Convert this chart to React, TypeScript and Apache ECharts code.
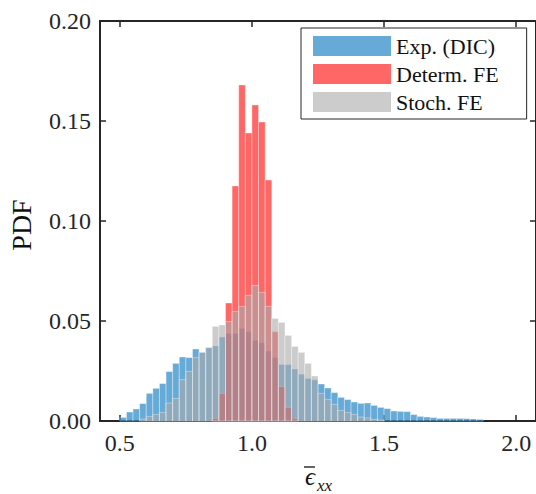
import React, { useEffect, useRef } from "react";
import * as echarts from "echarts";

const binWidth = 0.025;
const seriesNames = ["Exp. (DIC)", "Determ. FE", "Stoch. FE"];
const seriesColors = ["rgba(0,114,189,0.6)", "rgba(255,0,0,0.6)", "rgba(170,170,170,0.6)"];

const expStart = 0.5;
const expValues = [
  0.0018, 0.0045, 0.006, 0.0087, 0.0138, 0.0163, 0.0187, 0.0247, 0.0288, 0.032,
  0.0317, 0.036, 0.0343, 0.0367, 0.0375, 0.042, 0.0437, 0.0437, 0.0463, 0.0447,
  0.0403, 0.0392, 0.035, 0.0317, 0.0283, 0.0282, 0.026, 0.0234, 0.0213, 0.0206,
  0.0185, 0.0165, 0.0142, 0.0118, 0.0107, 0.0095, 0.0088, 0.009, 0.0078, 0.0068,
  0.0062, 0.005, 0.0048, 0.0047, 0.0032, 0.0023, 0.002, 0.0017, 0.0013, 0.0013,
  0.0013, 0.0013, 0.0012, 0.001, 0.0008,
];

const detStart = 0.85;
const detValues = [
  0.0013, 0.0138, 0.059, 0.1175, 0.168, 0.144, 0.158, 0.1495, 0.1205, 0.0447,
  0.0172, 0.0068, 0.0013,
];

const stochStart = 0.575;
const stochValues = [
  0.001, 0.0023, 0.0033, 0.0043, 0.009, 0.0113, 0.0207, 0.0248, 0.0317, 0.0343,
  0.0367, 0.0473, 0.048, 0.0497, 0.0548, 0.0573, 0.0628, 0.0678, 0.0643, 0.0573,
  0.0513, 0.0493, 0.0428, 0.0373, 0.0343, 0.0288, 0.0225, 0.0138, 0.0108, 0.0083,
  0.0053, 0.0042, 0.0033, 0.002, 0.0015, 0.0008, 0.0005,
];

const xTicks = [0.5, 1.0, 1.5, 2.0];
const yTicks = [0, 0.05, 0.1, 0.15, 0.2];

const FONT = "'Liberation Serif', 'DejaVu Serif', serif";
const AXIS_COLOR = "#262626";

function toBins(start: number, values: number[]) {
  return values.map((v, i) => [start + i * binWidth, start + (i + 1) * binWidth, v]);
}

export default function App() {
  const ref = useRef<HTMLDivElement>(null);
  useEffect(() => {
    if (!ref.current) return;
    const chart = echarts.init(ref.current, null, { renderer: "svg" });
    const makeSeries = (idx: number, data: number[][]) => ({
      type: "custom",
      name: seriesNames[idx],
      xAxisIndex: 0,
      yAxisIndex: 0,
      itemStyle: { color: seriesColors[idx] },
      encode: { x: [0, 1], y: 2 },
      data,
      renderItem: (params: any, api: any) => {
        const p0 = api.coord([api.value(0), api.value(2)]);
        const p1 = api.coord([api.value(1), 0]);
        return {
          type: "rect",
          shape: { x: p0[0], y: p0[1], width: p1[0] - p0[0], height: p1[1] - p0[1] },
          style: { fill: seriesColors[idx], stroke: "rgba(255,255,255,0.45)", lineWidth: 0.8 },
        };
      },
    });
    const xBase = {
      type: "value",
      min: 0.425,
      max: 2.075,
      splitLine: { show: false },
      axisLine: { show: true, onZero: false, lineStyle: { color: AXIS_COLOR, width: 2 } },
      axisTick: { show: true, inside: true, length: 6, customValues: xTicks, lineStyle: { color: AXIS_COLOR, width: 1.5 } },
    };
    const yBase = {
      type: "value",
      min: 0,
      max: 0.2,
      interval: 0.05,
      splitLine: { show: false },
      axisLine: { show: true, onZero: false, lineStyle: { color: AXIS_COLOR, width: 2 } },
      axisTick: { show: true, inside: true, length: 6, lineStyle: { color: AXIS_COLOR, width: 1.5 } },
    };
    chart.setOption({
      animation: false,
      grid: { left: 100, right: -2, top: 21, bottom: 73, containLabel: false },
      xAxis: [
        {
          ...xBase,
          position: "bottom",
          axisLabel: {
            show: true,
            customValues: xTicks,
            formatter: (v: number) => v.toFixed(1),
            color: AXIS_COLOR,
            fontFamily: FONT,
            fontSize: 24,
            margin: 10,
          },
        },
        { ...xBase, position: "top", axisLabel: { show: false } },
      ],
      yAxis: [
        {
          ...yBase,
          position: "left",
          axisLabel: {
            show: true,
            formatter: (v: number) => v.toFixed(2),
            color: AXIS_COLOR,
            fontFamily: FONT,
            fontSize: 24,
            margin: 9,
            customValues: yTicks,
          },
        },
        { ...yBase, position: "right", axisLabel: { show: false } },
      ],
      legend: {
        show: true,
        orient: "vertical",
        left: 301,
        top: 28,
        padding: [7, 28, 6, 12],
        itemGap: 6,
        itemWidth: 78,
        itemHeight: 20,
        icon: "rect",
        borderColor: AXIS_COLOR,
        borderWidth: 1,
        backgroundColor: "#ffffff",
        data: seriesNames,
        textStyle: { fontFamily: FONT, fontSize: 22, color: "#111", padding: [0, 0, 0, 0], lineHeight: 20 },
        selectedMode: false,
      },
      graphic: [
        {
          type: "text",
          x: 21,
          y: 225,
          rotation: Math.PI / 2,
          style: { text: "PDF", font: `28px ${FONT}`, fill: "#111", align: "center", verticalAlign: "middle" },
        },
        {
          type: "text",
          x: 310,
          y: 476,
          style: { text: "\u03F5", font: `italic 25px ${FONT}`, fill: "#111", align: "center", verticalAlign: "middle" },
        },
        {
          type: "line",
          shape: { x1: 304, y1: 467, x2: 315, y2: 467 },
          style: { stroke: "#111", lineWidth: 1.3 },
        },
        {
          type: "text",
          x: 317,
          y: 485,
          style: { text: "xx", font: `italic 17px ${FONT}`, fill: "#111", align: "left", verticalAlign: "middle" },
        },
      ],
      series: [
        makeSeries(0, toBins(expStart, expValues)),
        makeSeries(1, toBins(detStart, detValues)),
        makeSeries(2, toBins(stochStart, stochValues)),
      ],
    });
    return () => chart.dispose();
  }, []);
  return (
    <div
      ref={ref}
      style={{ position: "fixed", left: 0, top: 0, width: 536, height: 494, background: "#fff" }}
    />
  );
}
